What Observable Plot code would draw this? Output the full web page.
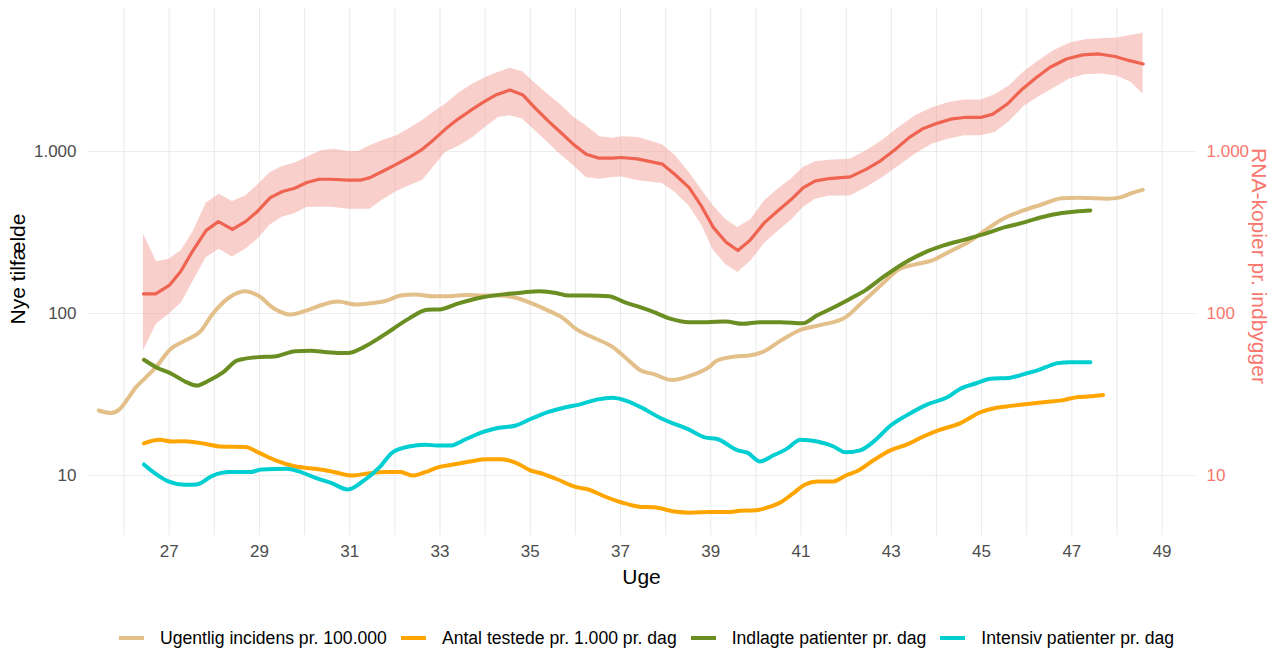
<!DOCTYPE html>
<html><head><meta charset="utf-8">
<script src="https://cdn.jsdelivr.net/npm/d3@7"></script>
<script src="https://cdn.jsdelivr.net/npm/@observablehq/plot@0.6"></script>
<style>
body{margin:0;background:#fff;font-family:"Liberation Sans",Arial,sans-serif;}
#legend{display:flex;justify-content:center;align-items:center;height:26px;margin-top:25px;padding-left:16px;font-size:17.6px;color:#000;}
.item{display:flex;align-items:center;margin:0 7px;}
.key{width:25px;height:4px;margin-right:16px;}
</style></head><body><div id="chart"></div><div id="legend"></div>
<script>
// ---- data (week, value) ----
const seriesNames = ["Ugentlig incidens pr. 100.000","Antal testede pr. 1.000 pr. dag","Indlagte patienter pr. dag","Intensiv patienter pr. dag"];
const seriesColors = ["#E3BF89","#FFA500","#6B8E23","#00CED1"];

const incidens = [[25.44,25.2],[25.71,24.3],[25.89,25.5],[26.08,29.7],[26.26,35],[26.45,39.5],[26.7,46.4],[27.02,60],[27.35,68],[27.7,78],[27.97,100],[28.34,126],[28.68,137],[28.97,129],[29.33,107],[29.69,98.6],[30.05,104.5],[30.41,113.6],[30.73,118.6],[31.14,113.6],[31.49,116],[31.77,119],[32.13,129],[32.45,131],[32.81,128],[33.22,128],[33.58,130],[33.94,129],[34.35,129],[34.67,125],[35.02,116],[35.39,104.5],[35.74,93],[36.02,80],[36.38,71.4],[36.83,62],[37.1,53.7],[37.45,44.5],[37.74,42.2],[38.15,38.8],[38.55,41.3],[38.96,46.6],[39.14,51.3],[39.55,54.3],[39.86,55],[40.14,57.7],[40.55,68],[40.99,79.4],[41.45,85],[41.99,95],[42.35,117],[42.81,153],[43.16,187],[43.53,201],[43.89,212],[44.34,245],[44.7,275],[45.07,325],[45.43,378],[45.88,428],[46.33,471],[46.78,515],[47.14,519],[47.41,517],[47.78,511],[48.05,519],[48.32,553],[48.57,580]];

const testede = [[26.44,15.8],[26.79,16.6],[27.07,16.2],[27.34,16.3],[27.79,15.7],[28.15,15.1],[28.69,15.0],[28.97,13.9],[29.33,12.5],[29.78,11.4],[30.23,11.0],[30.6,10.6],[31.05,10.0],[31.41,10.3],[31.77,10.5],[32.13,10.5],[32.4,10.0],[32.67,10.5],[32.99,11.3],[33.3,11.7],[33.67,12.2],[34.03,12.6],[34.35,12.6],[34.71,11.9],[35.02,10.7],[35.2,10.4],[35.57,9.55],[36.02,8.48],[36.29,8.2],[36.65,7.42],[37.01,6.84],[37.45,6.4],[37.74,6.37],[38.19,6.0],[38.55,5.9],[39.0,5.95],[39.37,5.95],[39.64,6.05],[40.0,6.1],[40.27,6.37],[40.55,6.84],[40.81,7.7],[41.09,8.8],[41.36,9.2],[41.72,9.2],[41.99,10],[42.26,10.7],[42.62,12.5],[42.98,14.3],[43.34,15.5],[43.71,17.4],[44.07,19.1],[44.52,21],[44.98,24.6],[45.33,26.2],[45.7,27],[46.06,27.7],[46.42,28.4],[46.78,29.1],[47.14,30.5],[47.41,30.8],[47.69,31.4]];

const indlagte = [[26.44,51.8],[26.71,46.6],[27.07,42.2],[27.39,37.6],[27.61,35.9],[27.88,38.6],[28.2,43.5],[28.51,51.3],[28.97,53.8],[29.33,54.3],[29.79,58.5],[30.14,59],[30.5,57.7],[30.96,57],[31.31,62],[31.68,71.4],[31.95,80],[32.31,93],[32.72,105.4],[32.99,106],[33.39,115],[33.94,126],[34.48,132],[34.84,135],[35.2,137],[35.57,134],[35.84,129],[36.29,129],[36.74,128],[37.1,117],[37.45,109],[37.74,102],[38.1,93],[38.51,88.4],[38.92,88.4],[39.33,89.3],[39.71,86.3],[40.09,88.4],[40.55,88.4],[41.04,87],[41.36,97.5],[41.72,109],[42.08,123],[42.44,140],[42.81,167],[43.26,203],[43.71,236],[44.16,263],[44.61,285],[45.07,310],[45.52,341],[45.88,361],[46.33,393],[46.78,417],[47.14,428],[47.41,433]];

const intensiv = [[26.44,11.7],[26.71,10.2],[26.98,9.2],[27.34,8.77],[27.61,8.8],[27.97,10.0],[28.34,10.5],[28.79,10.5],[29.05,10.9],[29.6,11.0],[29.87,10.6],[30.23,9.7],[30.6,8.97],[30.96,8.2],[31.31,9.3],[31.68,11.4],[31.95,13.9],[32.31,15.1],[32.67,15.5],[32.94,15.3],[33.22,15.3],[33.58,16.8],[33.94,18.5],[34.3,19.7],[34.66,20.3],[35.02,22.4],[35.39,24.6],[35.74,26.2],[36.11,27.5],[36.47,29.4],[36.83,30.2],[37.1,29.1],[37.4,26.8],[37.92,22.4],[38.55,19.0],[38.87,17.2],[39.14,16.8],[39.6,14.3],[39.82,13.8],[40.09,12.2],[40.36,13.2],[40.68,14.6],[40.99,16.6],[41.36,16.2],[41.72,15.1],[41.99,13.9],[42.31,14.3],[42.62,16.3],[42.98,20.3],[43.34,23.5],[43.8,27.5],[44.25,30.5],[44.52,34.2],[44.88,37.1],[45.2,39.6],[45.6,40.0],[45.97,42.5],[46.24,44.5],[46.42,46.6],[46.69,49.4],[46.96,50],[47.41,50]];

const rnaLine = [[26.43,132],[26.7,132],[27.0,149],[27.25,181],[27.52,243],[27.82,326],[28.09,369],[28.4,331],[28.69,369],[28.95,425],[29.24,519],[29.51,566],[29.78,593],[30.05,643],[30.32,674],[30.59,674],[30.95,665],[31.23,665],[31.45,690],[31.72,752],[32.04,835],[32.31,918],[32.58,1019],[32.85,1175],[33.12,1375],[33.4,1585],[33.67,1786],[33.98,2030],[34.25,2243],[34.55,2395],[34.84,2229],[35.11,1853],[35.43,1512],[35.7,1292],[35.97,1099],[36.24,963],[36.52,910],[36.83,910],[37.01,918],[37.37,900],[37.93,835],[38.2,724],[38.52,599],[38.79,461],[39.06,339],[39.33,277],[39.6,245],[39.87,283],[40.19,364],[40.5,434],[40.78,505],[41.05,599],[41.32,659],[41.63,681],[42.09,697],[42.45,778],[42.76,876],[43.08,1024],[43.4,1222],[43.71,1388],[44.03,1497],[44.35,1592],[44.62,1622],[44.98,1622],[45.25,1702],[45.57,1963],[45.88,2395],[46.2,2842],[46.52,3311],[46.88,3725],[47.24,3950],[47.6,4000],[47.96,3860],[48.28,3636],[48.58,3470]];

const rnaWeeks = [26.43,26.72,27.0,27.27,27.54,27.82,28.11,28.4,28.69,28.96,29.24,29.51,29.78,30.05,30.37,30.66,30.98,31.2,31.45,31.72,32.04,32.31,32.62,32.85,33.12,33.44,33.73,34.05,34.3,34.55,34.83,35.11,35.43,35.7,35.97,36.24,36.54,36.83,37.03,37.4,37.93,38.22,38.52,38.79,39.06,39.33,39.6,39.89,40.19,40.5,40.78,41.05,41.32,41.63,42.09,42.45,42.81,43.17,43.53,43.9,44.26,44.62,44.98,45.3,45.62,45.93,46.27,46.61,46.95,47.29,47.65,48.0,48.31,48.58];
const rnaHigh = [308,209,216,245,323,479,545,491,532,619,741,808,847,918,1010,1034,1000,1000,1084,1164,1250,1375,1560,1740,1960,2317,2607,2896,3081,3262,3110,2636,2210,1916,1622,1441,1232,1208,1232,1222,1099,940,741,585,461,381,339,381,495,590,674,796,863,884,897,1010,1175,1407,1662,1854,2000,2078,2078,2243,2549,3081,3636,4196,4660,4887,4959,5027,5192,5370];
const rnaLow = [59,86,99,116,160,221,249,223,249,287,352,394,413,451,455,451,440,440,440,500,566,613,665,796,985,1084,1222,1441,1622,1662,1585,1342,1110,940,815,690,674,690,697,659,634,557,461,356,245,201,179,211,270,323,376,451,507,532,532,599,690,815,963,1110,1192,1250,1250,1311,1534,1889,2178,2466,2801,2979,3010,2924,2672,2264];

const xTicks = [27,29,31,33,35,37,39,41,43,45,47,49];
const gridWeeks = [26,27,28,29,30,31,32,33,34,35,36,37,38,39,40,41,42,43,44,45,46,47,48,49];
const yTicks = [10,100,1000];

// ---- build ----
const lineData = [incidens,testede,indlagte,intensiv].flatMap((arr,i)=>arr.map(([w,v])=>({week:w,value:v,series:seriesNames[i]})));
const rnaData = rnaLine.map(([w,v])=>({week:w,value:v}));
const ribbon = rnaWeeks.map((w,i)=>({week:w,lo:rnaLow[i],hi:rnaHigh[i]}));
const fmt = d => d3.format(",")(d).replace(/,/g,".");
const RNA = "#F8766D";

const chart = Plot.plot({
  width:1277, height:600,
  marginTop:8, marginBottom:65, marginLeft:87, marginRight:82,
  style:{fontFamily:"'Liberation Sans', Arial, sans-serif", fontSize:"17px", background:"#fff", overflow:"visible"},
  x:{domain:[25.19,49.74]},
  y:{type:"log", domain:[4.263,7633]},
  color:{domain:seriesNames, range:seriesColors},
  marks:[
    Plot.ruleX(gridWeeks,{stroke:"#EBEBEB", strokeWidth:1.1}),
    Plot.ruleY(yTicks,{stroke:"#EBEBEB", strokeWidth:1.1}),
    Plot.areaY(ribbon,{x:"week", y1:"lo", y2:"hi", fill:"#F4A09A", fillOpacity:0.5}),
    Plot.line(rnaData,{x:"week", y:"value", stroke:"#EF6351", strokeWidth:3.2}),
    Plot.line(lineData,{x:"week", y:"value", z:"series", stroke:"series", strokeWidth:4, curve:"monotone-x"}),
    Plot.axisX({ticks:xTicks, tickSize:0, tickPadding:9, label:null, color:"#4D4D4D", fontSize:17}),
    Plot.axisY({ticks:yTicks, tickSize:0, tickPadding:11, tickFormat:fmt, label:null, color:"#4D4D4D", fontSize:17}),
    Plot.axisY({anchor:"right", ticks:yTicks, tickSize:0, tickPadding:11, tickFormat:fmt, label:null, color:RNA, fontSize:17}),
    Plot.text(["Nye tilfælde"],{frameAnchor:"left", dx:-69, dy:-3, rotate:-90, text:d=>d, fontSize:21, fill:"#000", textAnchor:"middle", lineAnchor:"middle"}),
    Plot.text(["Uge"],{frameAnchor:"bottom", dy:42, text:d=>d, fontSize:21, fill:"#000", textAnchor:"middle", lineAnchor:"middle"}),
    Plot.text(["RNA-kopier pr. indbygger"],{frameAnchor:"right", dx:63, dy:-6, rotate:90, text:d=>d, fontSize:21, fill:RNA, textAnchor:"middle", lineAnchor:"middle"})
  ]
});
document.getElementById("chart").appendChild(chart);

const legend = document.getElementById("legend");
seriesNames.forEach((n,i)=>{
  const it = document.createElement("div"); it.className="item";
  const k = document.createElement("span"); k.className="key"; k.style.background=seriesColors[i];
  const t = document.createElement("span"); t.textContent=n;
  it.appendChild(k); it.appendChild(t); legend.appendChild(it);
});
</script></body></html>
